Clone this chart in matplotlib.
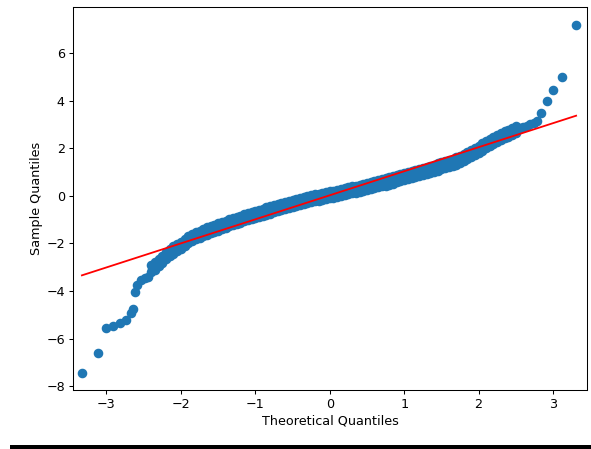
import matplotlib
matplotlib.use("Agg")
import matplotlib.pyplot as plt
from matplotlib.patches import Rectangle

# Lower tail points (theoretical, sample)
tail_lo_x = [-3.33, -3.12, -3.01, -2.91, -2.82, -2.74, -2.67, -2.65, -2.62, -2.59, -2.53, -2.48, -2.44, -2.39]
tail_lo_y = [-7.46, -6.62, -5.57, -5.47, -5.36, -5.22, -4.94, -4.77, -4.03, -3.75, -3.54, -3.47, -3.43, -3.07]

# Dense central band: theoretical quantiles with upper / lower band sample values
band_x = [-2.40, -2.35, -2.30, -2.25, -2.20, -2.15, -2.10, -2.05, -2.00, -1.95,
          -1.90, -1.85, -1.80, -1.75, -1.70, -1.65, -1.60, -1.55, -1.50, -1.45,
          -1.40, -1.35, -1.30, -1.25, -1.20, -1.15, -1.10, -1.05, -1.00, -0.95,
          -0.90, -0.85, -0.80, -0.75, -0.70, -0.65, -0.60, -0.55, -0.50, -0.45,
          -0.40, -0.35, -0.30, -0.25, -0.20, -0.15, -0.10, -0.05, 0.00, 0.05,
          0.10, 0.15, 0.20, 0.25, 0.30, 0.35, 0.40, 0.45, 0.50, 0.55,
          0.60, 0.65, 0.70, 0.75, 0.80, 0.85, 0.90, 0.95, 1.00, 1.05,
          1.10, 1.15, 1.20, 1.25, 1.30, 1.35, 1.40, 1.45, 1.50, 1.55,
          1.60, 1.65, 1.70, 1.75, 1.80, 1.85, 1.90, 1.95, 2.00, 2.05,
          2.10, 2.15, 2.20, 2.25, 2.30, 2.35, 2.40, 2.45, 2.50]
band_hi = [-2.92, -2.80, -2.67, -2.52, -2.37, -2.25, -2.13, -2.03, -1.93, -1.81,
           -1.70, -1.61, -1.53, -1.46, -1.39, -1.33, -1.27, -1.21, -1.16, -1.10,
           -1.04, -0.98, -0.93, -0.88, -0.83, -0.78, -0.73, -0.68, -0.63, -0.58,
           -0.54, -0.49, -0.45, -0.40, -0.36, -0.31, -0.27, -0.22, -0.18, -0.14,
           -0.10, -0.06, -0.02, 0.02, 0.06, 0.09, 0.13, 0.16, 0.19, 0.22,
           0.26, 0.29, 0.33, 0.36, 0.40, 0.43, 0.47, 0.50, 0.54, 0.57,
           0.61, 0.65, 0.69, 0.73, 0.77, 0.81, 0.86, 0.90, 0.95, 0.99,
           1.04, 1.08, 1.13, 1.17, 1.22, 1.26, 1.31, 1.36, 1.41, 1.46,
           1.51, 1.56, 1.61, 1.67, 1.75, 1.84, 1.93, 2.02, 2.11, 2.20,
           2.29, 2.38, 2.47, 2.55, 2.63, 2.71, 2.78, 2.85, 2.92]
band_lo = [-3.22, -3.10, -2.97, -2.82, -2.67, -2.55, -2.43, -2.33, -2.23, -2.11,
           -2.00, -1.91, -1.83, -1.76, -1.69, -1.63, -1.57, -1.51, -1.46, -1.40,
           -1.34, -1.28, -1.23, -1.18, -1.13, -1.08, -1.03, -0.98, -0.93, -0.88,
           -0.84, -0.79, -0.75, -0.70, -0.66, -0.61, -0.57, -0.52, -0.48, -0.44,
           -0.40, -0.36, -0.32, -0.28, -0.24, -0.21, -0.17, -0.14, -0.11, -0.08,
           -0.04, -0.01, 0.03, 0.06, 0.10, 0.13, 0.17, 0.20, 0.24, 0.27,
           0.31, 0.35, 0.39, 0.43, 0.47, 0.51, 0.56, 0.60, 0.65, 0.69,
           0.74, 0.78, 0.83, 0.87, 0.92, 0.96, 1.01, 1.06, 1.11, 1.16,
           1.21, 1.26, 1.31, 1.37, 1.45, 1.54, 1.63, 1.72, 1.81, 1.90,
           1.99, 2.08, 2.17, 2.25, 2.33, 2.41, 2.48, 2.55, 2.62]

# Upper tail points
tail_hi_x = [2.55, 2.60, 2.65, 2.69, 2.74, 2.78, 2.84, 2.92, 3.00, 3.12, 3.31]
tail_hi_y = [2.86, 2.90, 2.95, 3.00, 3.05, 3.16, 3.49, 4.00, 4.43, 5.00, 7.19]

# Reference line (standardized): intercept and slope, over the data range
line_intercept = 0.02
line_slope = 1.01
line_x = [-3.33, 3.31]

x_ticks = [-3, -2, -1, 0, 1, 2, 3]
y_ticks = [-8, -6, -4, -2, 0, 2, 4, 6]

plt.rcParams.update({
    "font.size": 9.2,
    "axes.linewidth": 0.75,
    "xtick.major.size": 3.2,
    "ytick.major.size": 3.2,
    "xtick.major.width": 0.75,
    "ytick.major.width": 0.75,
    "xtick.major.pad": 2.6,
    "ytick.major.pad": 2.6,
})

fig = plt.figure(figsize=(5.91, 4.49), dpi=100)
ax = fig.add_axes([0.1235, 0.1314, 0.8702, 0.8530])

mk = dict(linestyle="none", marker="o", color="#1f77b4", markersize=5.9, markeredgewidth=1.0)
ax.plot(band_x, band_hi, **mk)
ax.plot(band_x, band_lo, **mk)
ax.plot(tail_lo_x, tail_lo_y, **mk)
ax.plot(tail_hi_x, tail_hi_y, **mk)

line_y = [line_intercept + line_slope * v for v in line_x]
ax.plot(line_x, line_y, color="red", linewidth=1.3)

ax.set_xlim(-3.45, 3.46)
ax.set_ylim(-8.16, 7.93)
ax.set_xticks(x_ticks)
ax.set_yticks(y_ticks)
ax.set_xlabel("Theoretical Quantiles", labelpad=2.5)
ax.set_ylabel("Sample Quantiles", labelpad=2.5)

fig.patches.append(Rectangle((0.017, 0.0), 0.983, 0.009, transform=fig.transFigure,
                             facecolor="black", edgecolor="none"))

fig.savefig("out.png", dpi=100)
